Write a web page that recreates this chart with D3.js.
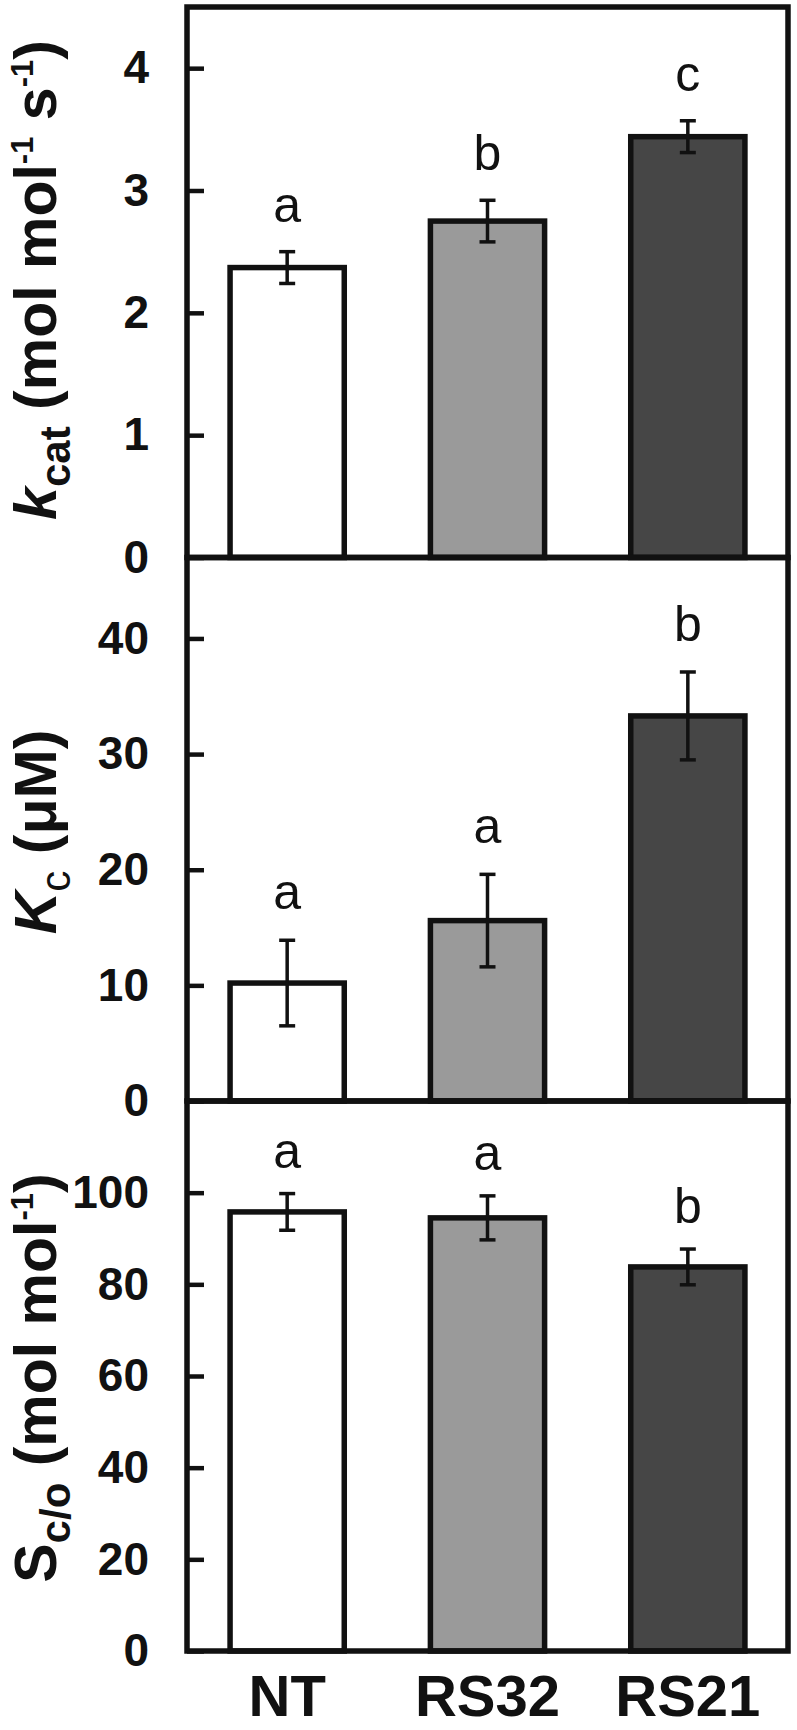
<!DOCTYPE html>
<html>
<head>
<meta charset="utf-8">
<script src="https://cdn.jsdelivr.net/npm/d3@7"></script>
<style>
  html, body { margin: 0; padding: 0; background: #fff; }
  svg { display: block; }
  text { font-family: "Liberation Sans", Arial, Helvetica, sans-serif; fill: #111; }
</style>
</head>
<body>
<svg id="chart" width="797" height="1730"></svg>
<script>
// ---------- data ----------
const categories = ["NT", "RS32", "RS21"];
const barFills = ["#ffffff", "#9a9a9a", "#464646"];

const kcatMean = [2.37, 2.75, 3.44];
const kcatErr = [0.13, 0.17, 0.13];
const kcatLetters = ["a", "b", "c"];
const kcatTicks = [0, 1, 2, 3, 4];

const kcMean = [10.2, 15.6, 33.3];
const kcErr = [3.7, 4.0, 3.8];
const kcLetters = ["a", "a", "b"];
const kcTicks = [0, 10, 20, 30, 40];

const scoMean = [95.8, 94.5, 83.8];
const scoErr = [4.0, 4.8, 3.9];
const scoLetters = ["a", "a", "b"];
const scoTicks = [0, 20, 40, 60, 80, 100];

// ---------- layout ----------
const svg = d3.select("#chart");
const left = 187, right = 788;
const ink = "#111";

const x = d3.scaleBand().domain(categories).range([left, right])
  .paddingInner(0.43).paddingOuter(0.215);

const MAIN = 59, SUB = 42, SUP = 31;
const panels = [
  { top: 7, bottom: 557.5, max: 4.5, mean: kcatMean, err: kcatErr, letters: kcatLetters, ticks: kcatTicks, gap: 30, tc: 280,
    title: [
      { t: "k", style: "italic", size: MAIN },
      { t: "cat", size: SUB, dy: 14 },
      { t: " (mol mol", size: MAIN, dy: -14 },
      { t: "-1", size: SUP, dy: -23 },
      { t: " s", size: MAIN, dy: 23 },
      { t: "-1", size: SUP, dy: -23 },
      { t: ")", size: MAIN, dy: 23 }
    ] },
  { top: 557.5, bottom: 1101, max: 47, mean: kcMean, err: kcErr, letters: kcLetters, ticks: kcTicks, gap: 31, tc: 832,
    title: [
      { t: "K", style: "italic", size: MAIN },
      { t: "c", size: SUB, dy: 14, weight: "normal" },
      { t: " (\u03bcM)", size: MAIN, dy: -14 }
    ] },
  { top: 1101, bottom: 1651, max: 120, mean: scoMean, err: scoErr, letters: scoLetters, ticks: scoTicks, gap: 26, tc: 1378,
    title: [
      { t: "S", size: MAIN },
      { t: "c/o", size: SUB, dy: 14 },
      { t: " (mol mol", size: MAIN, dy: -14 },
      { t: "-1", size: SUP, dy: -23 },
      { t: ")", size: MAIN, dy: 23 }
    ] }
];

panels.forEach((p) => {
  const y = d3.scaleLinear().domain([0, p.max]).range([p.bottom, p.top]);
  const g = svg.append("g");

  // bars
  g.selectAll("rect.bar").data(categories).join("rect")
    .attr("class", "bar")
    .attr("x", d => x(d))
    .attr("y", (d, i) => y(p.mean[i]))
    .attr("width", x.bandwidth())
    .attr("height", (d, i) => y(0) - y(p.mean[i]))
    .attr("fill", (d, i) => barFills[i])
    .attr("stroke", ink)
    .attr("stroke-width", 5.5);

  // error bars
  const cx = d => x(d) + x.bandwidth() / 2;
  const cap = 8;
  const eb = g.selectAll("g.err").data(categories).join("g").attr("class", "err")
    .attr("stroke", ink).attr("stroke-width", 3.5);
  eb.append("line")
    .attr("x1", cx).attr("x2", cx)
    .attr("y1", (d, i) => y(p.mean[i] + p.err[i]))
    .attr("y2", (d, i) => y(p.mean[i] - p.err[i]));
  eb.append("line")
    .attr("x1", d => cx(d) - cap).attr("x2", d => cx(d) + cap)
    .attr("y1", (d, i) => y(p.mean[i] + p.err[i]))
    .attr("y2", (d, i) => y(p.mean[i] + p.err[i]));
  eb.append("line")
    .attr("x1", d => cx(d) - cap).attr("x2", d => cx(d) + cap)
    .attr("y1", (d, i) => y(p.mean[i] - p.err[i]))
    .attr("y2", (d, i) => y(p.mean[i] - p.err[i]));

  // significance letters
  g.selectAll("text.letter").data(categories).join("text")
    .attr("class", "letter")
    .attr("x", cx)
    .attr("y", (d, i) => y(p.mean[i] + p.err[i]) - p.gap)
    .attr("text-anchor", "middle")
    .attr("font-size", 50)
    .text((d, i) => p.letters[i]);

  // y axis with inward ticks
  const axis = d3.axisLeft(y).tickValues(p.ticks).tickSizeInner(-17).tickSizeOuter(0).tickPadding(38)
    .tickFormat(d3.format("d"));
  const ag = g.append("g").attr("transform", `translate(${left},0)`).call(axis);
  ag.select(".domain").remove();
  ag.selectAll(".tick line").attr("stroke", ink).attr("stroke-width", 4.5);
  ag.selectAll(".tick text")
    .attr("font-size", 46).attr("font-weight", "bold")
    .attr("fill", ink)
    .style("font-family", "'Liberation Sans', Arial, sans-serif");

  // frame
  g.append("rect")
    .attr("x", left).attr("y", p.top)
    .attr("width", right - left).attr("height", p.bottom - p.top)
    .attr("fill", "none").attr("stroke", ink).attr("stroke-width", 5.5);

  // y title
  const tt = g.append("text")
    .attr("transform", `translate(56,${p.tc}) rotate(-90)`)
    .attr("text-anchor", "middle")
    .attr("font-weight", "bold");
  p.title.forEach(s => {
    const ts = tt.append("tspan").text(s.t).attr("font-size", s.size);
    if (s.style) ts.attr("font-style", s.style);
    if (s.weight) ts.attr("font-weight", s.weight);
    if (s.dy) ts.attr("dy", s.dy);
  });
});

// category labels
svg.append("g").selectAll("text").data(categories).join("text")
  .attr("x", d => x(d) + x.bandwidth() / 2)
  .attr("y", 1716)
  .attr("text-anchor", "middle")
  .attr("font-size", 58)
  .attr("font-weight", "bold")
  .text(d => d);
</script>
</body>
</html>
